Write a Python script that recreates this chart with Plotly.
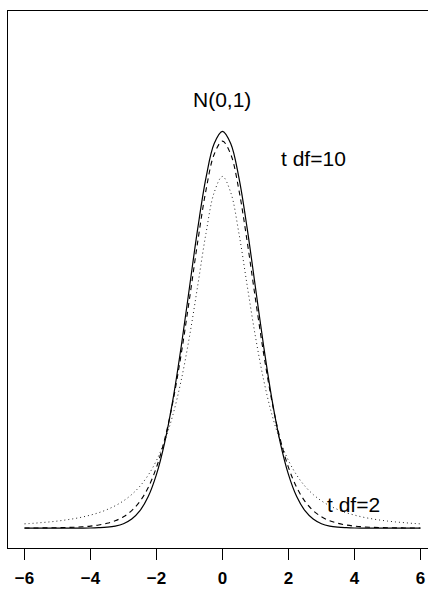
import plotly.graph_objects as go

# x grid of the drawn curves
x_vals = [-6.0, -5.75, -5.5, -5.25, -5.0, -4.75, -4.5, -4.25, -4.0, -3.75, -3.5, -3.25,
          -3.0, -2.75, -2.5, -2.25, -2.0, -1.75, -1.5, -1.25, -1.0, -0.75, -0.5, -0.25,
          0.0, 0.25, 0.5, 0.75, 1.0, 1.25, 1.5, 1.75, 2.0, 2.25, 2.5, 2.75, 3.0, 3.25,
          3.5, 3.75, 4.0, 4.25, 4.5, 4.75, 5.0, 5.25, 5.5, 5.75, 6.0]

# N(0,1) density (solid)
normal_y = [0.0, 0.0, 0.0, 0.0, 0.0, 0.0, 0.0, 0.0, 0.0001, 0.0004, 0.0009, 0.0020,
            0.0044, 0.0091, 0.0175, 0.0317, 0.0540, 0.0863, 0.1295, 0.1826, 0.2420, 0.3011, 0.3521, 0.3867,
            0.3989, 0.3867, 0.3521, 0.3011, 0.2420, 0.1826, 0.1295, 0.0863, 0.0540, 0.0317, 0.0175, 0.0091,
            0.0044, 0.0020, 0.0009, 0.0004, 0.0001, 0.0, 0.0, 0.0, 0.0, 0.0, 0.0, 0.0, 0.0]

# t density, df = 10 (dashed)
t10_y = [0.00009, 0.00013, 0.00018, 0.00027, 0.0004, 0.00059, 0.00088, 0.00133, 0.0020, 0.0031, 0.0048, 0.0074,
         0.0114, 0.0176, 0.0269, 0.0409, 0.0611, 0.0895, 0.1274, 0.1751, 0.2304, 0.2880, 0.3397, 0.3760,
         0.3891, 0.3760, 0.3397, 0.2880, 0.2304, 0.1751, 0.1274, 0.0895, 0.0611, 0.0409, 0.0269, 0.0176,
         0.0114, 0.0074, 0.0048, 0.0031, 0.0020, 0.00133, 0.00088, 0.00059, 0.0004, 0.00027, 0.00018, 0.00013, 0.00009]

# t density, df = 2 (dotted)
t2_y = [0.0043, 0.0048, 0.0055, 0.0062, 0.0071, 0.0082, 0.0095, 0.0111, 0.0131, 0.0155, 0.0186, 0.0225,
        0.0274, 0.0338, 0.0422, 0.0533, 0.0680, 0.0878, 0.1141, 0.1487, 0.1925, 0.2438, 0.2963, 0.3376,
        0.3536, 0.3376, 0.2963, 0.2438, 0.1925, 0.1487, 0.1141, 0.0878, 0.0680, 0.0533, 0.0422, 0.0338,
        0.0274, 0.0225, 0.0186, 0.0155, 0.0131, 0.0111, 0.0095, 0.0082, 0.0071, 0.0062, 0.0055, 0.0048, 0.0043]

tick_vals = [-6, -4, -2, 0, 2, 4, 6]
tick_text = ["\u22126", "\u22124", "\u22122", "0", "2", "4", "6"]

labels = ["N(0,1)", "t df=10", "t df=2"]
label_x = [0.0, 2.77, 3.98]
label_y = [0.431, 0.372, 0.024]

fig = go.Figure()
fig.add_trace(go.Scatter(x=x_vals, y=t2_y, mode="lines", line=dict(color="#222", width=1, dash="1px,3px", shape="spline"), hoverinfo="skip"))
fig.add_trace(go.Scatter(x=x_vals, y=t10_y, mode="lines", line=dict(color="black", width=1.1, dash="5px,4px", shape="spline"), hoverinfo="skip"))
fig.add_trace(go.Scatter(x=x_vals, y=normal_y, mode="lines", line=dict(color="black", width=1.2, shape="spline"), hoverinfo="skip"))

for t, xx, yy in zip(labels, label_x, label_y):
    fig.add_annotation(x=xx, y=yy, text=t, showarrow=False, xanchor="center", yanchor="middle",
                       font=dict(family="Liberation Sans", size=21, color="black"))

fig.update_layout(
    width=428, height=589,
    margin=dict(l=8, r=0, t=11, b=41, autoexpand=False),
    paper_bgcolor="white", plot_bgcolor="white",
    showlegend=False,
    xaxis=dict(range=[-6.50, 6.23], tickvals=tick_vals, ticktext=tick_text, automargin=False,
               showline=True, linecolor="black", linewidth=1, mirror=True,
               ticks="outside", ticklen=11, tickcolor="black", tickwidth=1,
               showgrid=False, zeroline=False, ticklabelstandoff=4,
               tickfont=dict(family="Liberation Sans", size=17, color="black", weight="bold")),
    yaxis=dict(range=[-0.02, 0.52], showline=True, linecolor="black", linewidth=1, mirror=False,
               automargin=False,
               showticklabels=False, ticks="", showgrid=False, zeroline=False),
)

fig.write_html("out.html")
